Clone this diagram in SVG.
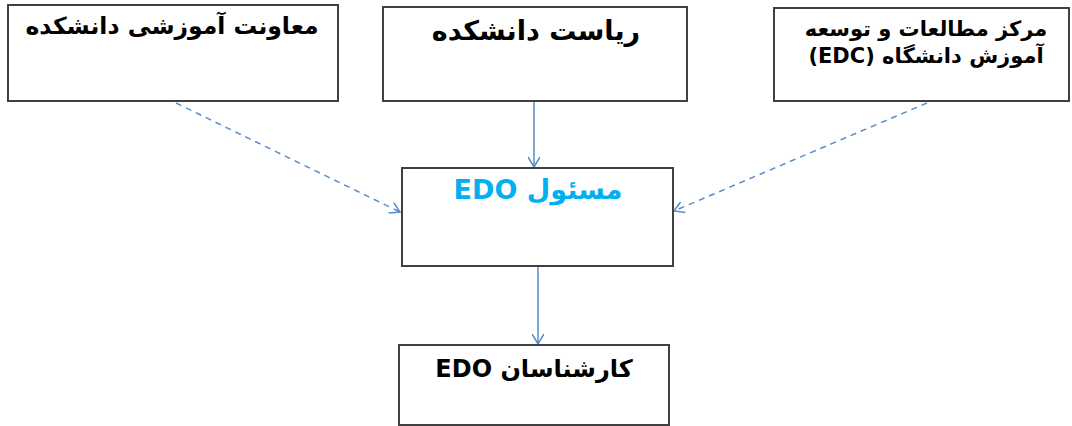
<svg xmlns="http://www.w3.org/2000/svg" width="1072" height="426" viewBox="0 0 1072 426">
<defs>
<style>
.box{fill:#fff;stroke:#404040;stroke-width:2}
.t{font-family:"DejaVu Sans",sans-serif;font-weight:bold;fill:#000;text-anchor:middle;direction:rtl;unicode-bidi:embed}
.cy{fill:#00B0F0}
.c{stroke:#5B8BC9;stroke-width:1.5;fill:none}
.d{stroke-dasharray:6 5}
</style>
<marker id="ah" viewBox="0 0 12 12" refX="11" refY="6" markerWidth="12" markerHeight="12" markerUnits="userSpaceOnUse" orient="auto">
<path d="M1,0 L11,6 L1,12" fill="none" stroke="#5B8BC9" stroke-width="1.5"/>
</marker>
</defs>
<rect width="1072" height="426" fill="#fff"/>
<g id="connectors">
<path class="c d" d="M176,103 L400,212" marker-end="url(#ah)"/>
<path class="c" d="M534,102 L534,167" marker-end="url(#ah)"/>
<path class="c d" d="M927,103 L674,211" marker-end="url(#ah)"/>
<path class="c" d="M538,267 L538,344" marker-end="url(#ah)"/>
</g>
<g id="n1">
<rect class="box" x="8" y="5" width="330" height="96"/>
<text class="t" x="172" y="34" style="font-size:23.5px">معاونت آموزشی دانشکده</text>
</g>
<g id="n2">
<rect class="box" x="383" y="7" width="304" height="94"/>
<text class="t" x="536" y="40" style="font-size:27px">ریاست دانشکده</text>
</g>
<g id="n3">
<rect class="box" x="774" y="8" width="295" height="93"/>
<text class="t" x="926" y="36" style="font-size:21px">مرکز مطالعات و توسعه</text>
<text class="t" x="926" y="63" style="font-size:21px">آموزش دانشگاه (EDC)</text>
</g>
<g id="n4">
<rect class="box" x="402" y="168" width="271" height="98"/>
<text class="t cy" x="538" y="199" style="font-size:27px">مسئول EDO</text>
</g>
<g id="n5">
<rect class="box" x="399" y="345" width="270" height="80"/>
<text class="t" x="534" y="377" style="font-size:24px">کارشناسان EDO</text>
</g>
</svg>
